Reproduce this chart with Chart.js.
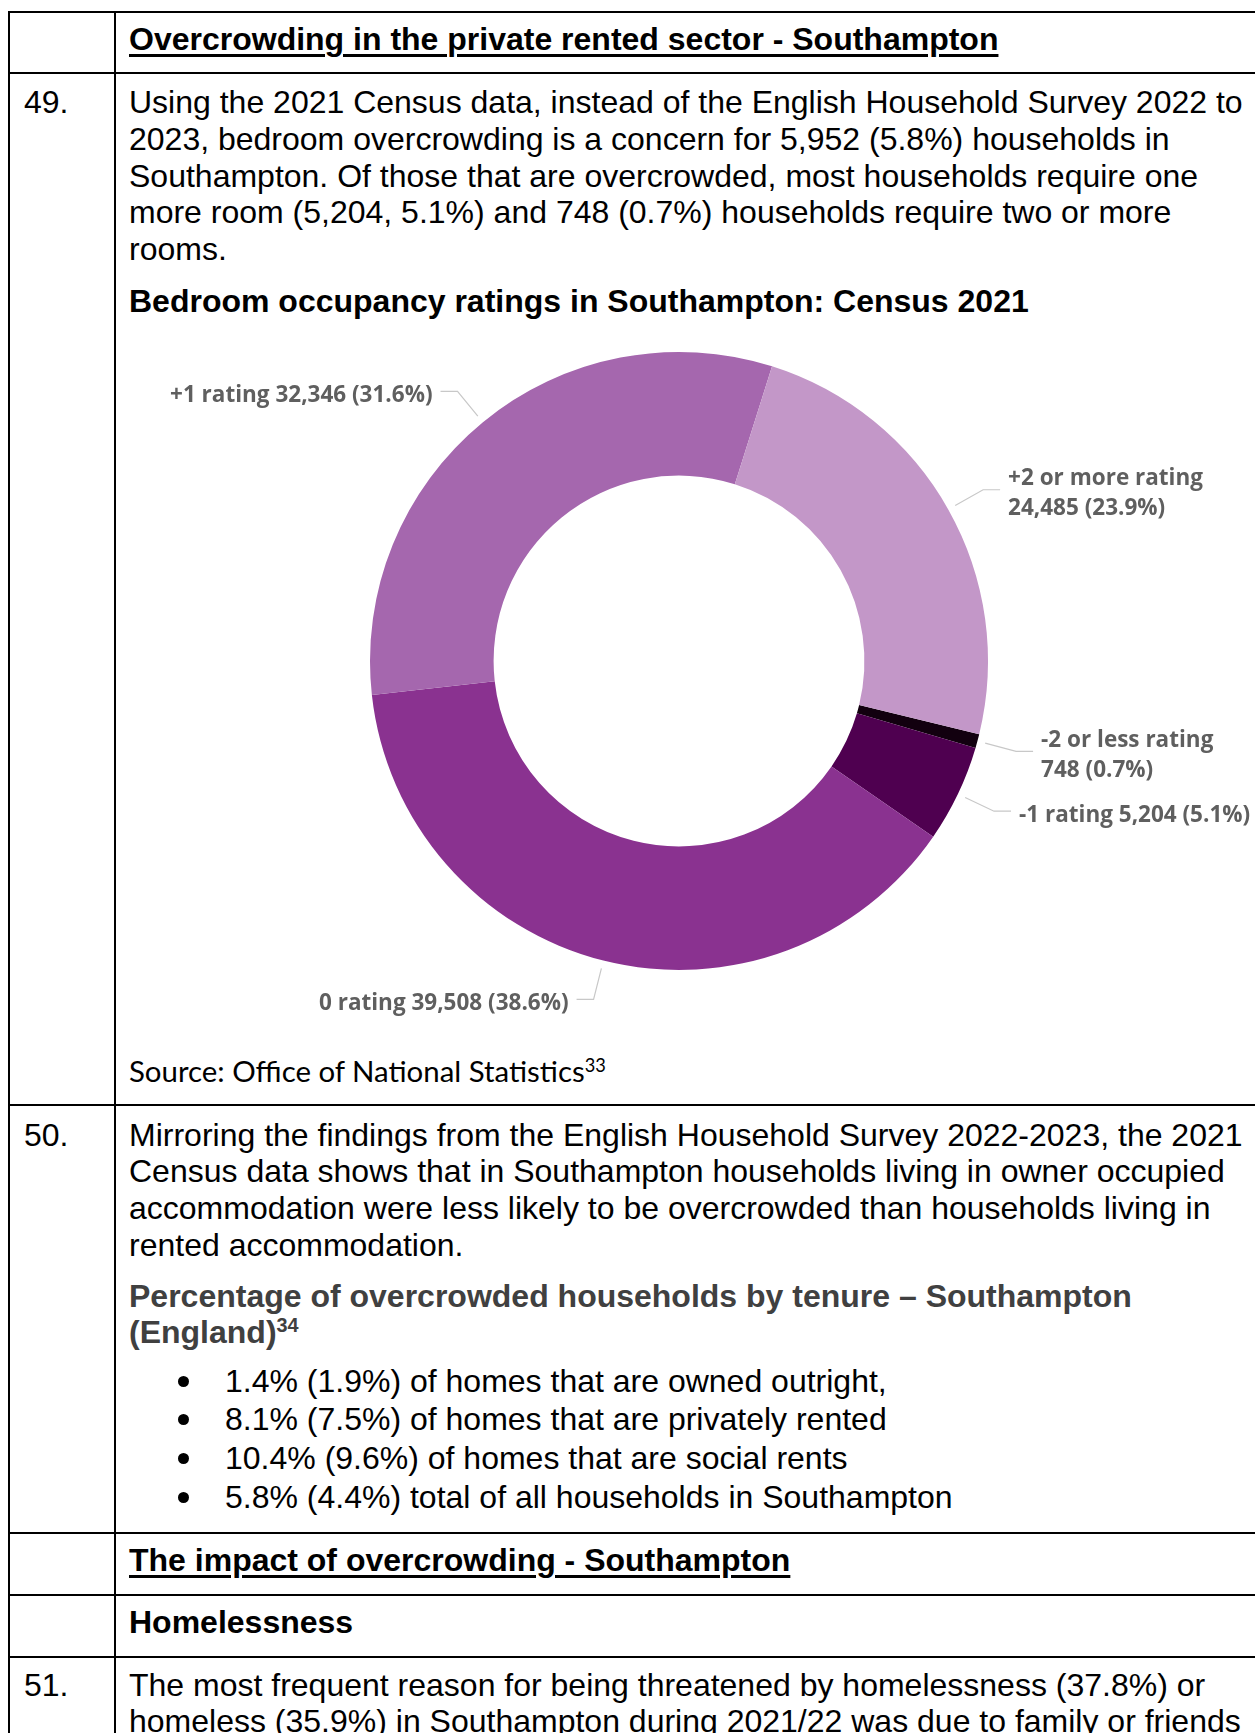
<!DOCTYPE html>
<html>
<head>
<meta charset="utf-8">
<title>Bedroom occupancy ratings in Southampton</title>
<script src="https://cdn.jsdelivr.net/npm/chart.js@4.4.1/dist/chart.umd.min.js"></script>
<style>
	body { margin: 0; background: #fff; }
	#page {
		position: relative; width: 1255px; height: 1733px; overflow: hidden;
		font-family: "Liberation Sans", Arial, sans-serif; font-size: 32px; line-height: 36.8px; color: #000;
	}
	.hl { position: absolute; left: 8px; width: 1260px; height: 2px; background: #000; }
	.vl { position: absolute; top: 11px; bottom: 0; width: 2px; background: #000; }
	.t { position: absolute; left: 129px; white-space: nowrap; }
	.n { position: absolute; left: 24px; }
	.u { font-weight: bold; text-decoration: underline; text-decoration-thickness: 2.5px; text-underline-offset: 4px; }
	.b { font-weight: bold; }
	.grey { color: #404040; }
	sup { font-size: 0.62em; line-height: 0; vertical-align: 0.55em; }
	.src { font-family: Lato, "Open Sans", sans-serif; font-size: 29.4px; line-height: 36px; }
	.bullets { position: absolute; left: 225px; line-height: 38.8px; white-space: nowrap; }
	.bullets div { position: relative; }
	.bullets div::before {
		content: ""; position: absolute; left: -47px; top: 14px;
		width: 11px; height: 11px; border-radius: 50%; background: #000;
	}
	#chartBox { position: absolute; left: 116px; top: 322px; width: 1139px; height: 720px; }
</style>
</head>
<body>
<div id="page">
	<!-- table rules -->
	<div class="hl" style="top:11px"></div>
	<div class="hl" style="top:72px"></div>
	<div class="hl" style="top:1104px"></div>
	<div class="hl" style="top:1532px"></div>
	<div class="hl" style="top:1594px"></div>
	<div class="hl" style="top:1656px"></div>
	<div class="vl" style="left:8px"></div>
	<div class="vl" style="left:114px"></div>

	<div class="t u" style="top:21px">Overcrowding in the private rented sector - Southampton</div>

	<div class="n" style="top:84px">49.</div>
	<div class="t" style="top:84px">
		Using the 2021 Census data, instead of the English Household Survey 2022 to<br>
		2023, bedroom overcrowding is a concern for 5,952 (5.8%) households in<br>
		Southampton. Of those that are overcrowded, most households require one<br>
		more room (5,204, 5.1%) and 748 (0.7%) households require two or more<br>
		rooms.
	</div>
	<div class="t b" style="top:282.5px">Bedroom occupancy ratings in Southampton: Census 2021</div>

	<div id="chartBox"><canvas id="occupancyChart"></canvas></div>

	<div class="t src" style="top:1053px">Source: Office of National Statistics<sup>33</sup></div>

	<div class="n" style="top:1116.5px">50.</div>
	<div class="t" style="top:1116.5px">
		Mirroring the findings from the English Household Survey 2022-2023, the 2021<br>
		Census data shows that in Southampton households living in owner occupied<br>
		accommodation were less likely to be overcrowded than households living in<br>
		rented accommodation.
	</div>
	<div class="t b grey" style="top:1277.5px">
		Percentage of overcrowded households by tenure – Southampton<br>
		(England)<sup>34</sup>
	</div>
	<div class="bullets" style="top:1361.5px">
		<div>1.4% (1.9%) of homes that are owned outright,</div>
		<div>8.1% (7.5%) of homes that are privately rented</div>
		<div>10.4% (9.6%) of homes that are social rents</div>
		<div>5.8% (4.4%) total of all households in Southampton</div>
	</div>

	<div class="t u" style="top:1541.5px">The impact of overcrowding - Southampton</div>
	<div class="t b" style="top:1603.5px">Homelessness</div>

	<div class="n" style="top:1666.5px">51.</div>
	<div class="t" style="top:1666.5px">
		The most frequent reason for being threatened by homelessness (37.8%) or<br>
		homeless (35.9%) in Southampton during 2021/22 was due to family or friends
	</div>
</div>

<script>
// Census 2021 bedroom occupancy ratings, Southampton
const ratingLabels = ['-2 or less rating', '-1 rating', '0 rating', '+1 rating', '+2 or more rating'];
const households = [748, 5204, 39508, 32346, 24485];
const sharePct = [0.7, 5.1, 38.6, 31.6, 23.9];

const purpleDark = '#12000f';
const purpleDeep = '#4f0050';
const purpleMid = '#8a3290';
const purpleSoft = '#a567ae';
const purpleLight = '#c397c8';

// leader lines + labels drawn outside each slice
const calloutPlugin = {
	id: 'callouts',
	afterDatasetsDraw(chart) {
		const ctx = chart.ctx;
		const meta = chart.getDatasetMeta(0);
		ctx.save();
		ctx.font = 'bold 22.5px "Open Sans"';
		ctx.textBaseline = 'middle';
		meta.data.forEach((arc, i) => {
			const mid = (arc.startAngle + arc.endAngle) / 2;
			const cos = Math.cos(mid), sin = Math.sin(mid);
			const r = arc.outerRadius;
			const right = cos >= 0;
			const x0 = arc.x + cos * (r + 8), y0 = arc.y + sin * (r + 8);
			const x1 = arc.x + cos * (r + 40), y1 = arc.y + sin * (r + 40);
			const x2 = x1 + (right ? 17 : -17);

			ctx.strokeStyle = '#c8c8c8';
			ctx.lineWidth = 1.2;
			ctx.beginPath();
			ctx.moveTo(x0, y0);
			ctx.lineTo(x1, y1);
			ctx.lineTo(x2, y1);
			ctx.stroke();

			const value = households[i].toLocaleString('en-GB') + ' (' + sharePct[i].toFixed(1) + '%)';
			const full = ratingLabels[i] + ' ' + value;
			const tx = x2 + (right ? 8 : -8);
			const ty = y1 + 4;
			const w = ctx.measureText(full).width;
			ctx.fillStyle = '#5f5f5f';
			ctx.textAlign = right ? 'left' : 'right';
			const tooWide = right ? tx + w > chart.width : tx - w < 0;
			if (tooWide) {
				ctx.fillText(ratingLabels[i], tx, ty - 15);
				ctx.fillText(value, tx, ty + 15);
			} else {
				ctx.fillText(full, tx, ty);
			}
		});
		ctx.restore();
	}
};

new Chart(document.getElementById('occupancyChart'), {
	type: 'doughnut',
	data: {
		labels: ratingLabels,
		datasets: [{
			data: households,
			backgroundColor: [purpleDark, purpleDeep, purpleMid, purpleSoft, purpleLight],
			borderWidth: 0
		}]
	},
	options: {
		responsive: true,
		maintainAspectRatio: false,
		animation: false,
		rotation: 103.7,
		cutout: '60%',
		layout: { padding: { top: 30, bottom: 72, left: 254, right: 267 } },
		plugins: { legend: { display: false }, tooltip: { enabled: false } }
	},
	plugins: [calloutPlugin]
});
</script>
</body>
</html>
